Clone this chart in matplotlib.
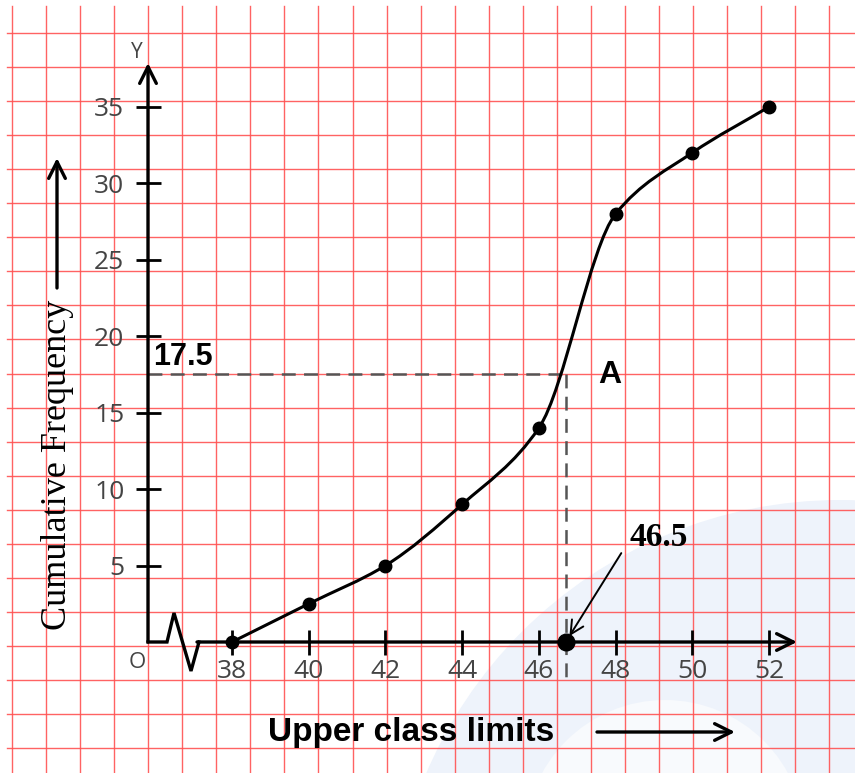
"""Ogive (less-than cumulative frequency curve) drawn on red graph paper."""

import matplotlib

matplotlib.use("Agg")
import matplotlib.pyplot as plt  # noqa: E402
import numpy as np  # noqa: E402
from matplotlib.patches import Circle, PathPatch  # noqa: E402
from matplotlib.path import Path  # noqa: E402

upper_limits = [38, 40, 42, 44, 46, 48, 50, 52]
cum_freq = [0, 2.5, 5, 9, 14, 28, 32, 35]
x_ticks = [38, 40, 42, 44, 46, 48, 50, 52]
y_ticks = [5, 10, 15, 20, 25, 30, 35]
median_y = 17.5
median_x = 46.7  # where the drop line sits on the drawing
median_label = "46.5"

# page layout in pixels (graph paper 855x773)
W, H = 855, 773
X_REF, X_REF_PX, X_PX = 38, 232, 38.36  # x=38 sits at 232 px, 38.36 px per unit
Y0_PX, Y_PX = 642, 15.29  # y=0 sits at 642 px, 15.29 px per unit
GRID_PX = 34.05

plt.rcParams["font.family"] = ["Open Sans", "DejaVu Sans"]
plt.rcParams["lines.scale_dashes"] = False


def to_data(px, py):
    return X_REF + (px - X_REF_PX) / X_PX, (Y0_PX - py) / Y_PX


def smooth_path(xs, ys):
    # monotone cubic hermite (fritsch-carlson slopes) through the points, as beziers
    x = np.asarray(xs, float)
    y = np.asarray(ys, float)
    h = np.diff(x)
    d = np.diff(y) / h
    m = np.empty_like(y)
    m[0], m[-1] = d[0], d[-1]
    for i in range(1, len(y) - 1):
        if d[i - 1] * d[i] <= 0:
            m[i] = 0.0
        else:
            m[i] = 2 * d[i - 1] * d[i] / (d[i - 1] + d[i])
    verts = [(x[0], y[0])]
    codes = [Path.MOVETO]
    for i in range(len(x) - 1):
        verts += [(x[i] + h[i] / 3, y[i] + m[i] * h[i] / 3),
                  (x[i + 1] - h[i] / 3, y[i + 1] - m[i + 1] * h[i] / 3),
                  (x[i + 1], y[i + 1])]
        codes += [Path.CURVE4] * 3
    return Path(verts, codes)


fig = plt.figure(figsize=(W / 100, H / 100), dpi=100)

# graph paper background
bg = fig.add_axes([0, 0, 1, 1])
bg.set_xlim(0, W)
bg.set_ylim(H, 0)
bg.axis("off")
bg.add_patch(Circle((840, 950), 450, color="#eef3fb", lw=0))
bg.add_patch(Circle((665, 840), 140, color="#f8fafd", lw=0))
for k in range(25):
    gx = 12 + k * GRID_PX
    bg.plot([gx, gx], [6, H], color="#ff5252", lw=1.0, alpha=0.9)
for k in range(22):
    gy = 33 + k * GRID_PX
    bg.plot([7, W], [gy, gy], color="#ff5252", lw=1.0, alpha=0.9)

ax = fig.add_axes([0, 0, 1, 1])
ax.patch.set_alpha(0)
left, top = to_data(0, 0)
right, bottom = to_data(W, H)
ax.set_xlim(left, right)
ax.set_ylim(bottom, top)

x_origin, _ = to_data(148, Y0_PX)

# hand drawn axes with a break on x
brk = [to_data(p, q) for p, q in [(148, 642), (167, 642), (174, 613), (191, 671), (199, 642)]]
ax.plot([b[0] for b in brk], [b[1] for b in brk], color="black", lw=2.4, solid_joinstyle="miter")
arrow = dict(arrowstyle="->,head_length=0.6,head_width=0.3", lw=2.4, color="black",
             shrinkA=0, shrinkB=0, mutation_scale=20)
ax.annotate("", xy=to_data(797, 642), xytext=to_data(197, 642), arrowprops=arrow)
ax.annotate("", xy=to_data(148, 63), xytext=(x_origin, 0), arrowprops=arrow)

for side in ax.spines.values():
    side.set_visible(False)
ax.spines["left"].set_position(("data", x_origin))
ax.spines["bottom"].set_position(("data", 0))
ax.set_xticks(x_ticks)
ax.set_yticks(y_ticks)
ax.tick_params(direction="inout", length=18, width=2, color="black",
               labelcolor="#444444", labelsize=19)
ax.tick_params(axis="x", pad=3)
ax.tick_params(axis="y", pad=8)

# ogive
ax.add_patch(PathPatch(smooth_path(upper_limits, cum_freq), fill=False, lw=2.2,
                       ec="black", zorder=4))
ax.plot(upper_limits, cum_freq, "o", color="black", ms=9, zorder=5)

# median construction
dash = dict(color="#555555", lw=1.8, dashes=(10, 6))
ax.plot([x_origin, median_x], [median_y, median_y], **dash)
ax.plot([median_x, median_x], [median_y, to_data(0, 677)[1]], **dash)
ax.plot(median_x, 0, "o", color="black", ms=12, zorder=6)
ax.annotate("", xy=(median_x, 0), xytext=(40, 64), textcoords="offset points",
            arrowprops=dict(arrowstyle="->,head_length=0.6,head_width=0.3", lw=1.4,
                            color="black", shrinkA=0, shrinkB=5, mutation_scale=16))
ax.text(*to_data(659, 537), median_label, ha="center", va="center", fontsize=24,
        fontweight="bold", family=["Liberation Serif", "DejaVu Serif"])
ax.text(*to_data(153, 357), f"{median_y}", ha="left", va="center", fontsize=22,
        fontweight="bold", family=["Liberation Sans", "DejaVu Sans"])
ax.text(*to_data(610, 375), "A", ha="center", va="center", fontsize=23,
        fontweight="bold", family=["Liberation Sans", "DejaVu Sans"])

# axis names
ax.text(*to_data(137, 53), "Y", ha="center", va="center", fontsize=15, color="#444444")
ax.text(*to_data(137, 663), "O", ha="center", va="center", fontsize=16, color="#444444")
ax.text(*to_data(58, 465), "Cumulative Frequency", rotation=90, ha="center", va="center",
        fontsize=26, family=["Liberation Serif", "DejaVu Serif"])
ax.annotate("", xy=to_data(57, 158), xytext=to_data(57, 288), arrowprops=arrow)
ax.text(*to_data(411, 733), "Upper class limits", ha="center", va="center", fontsize=24,
        fontweight="bold", family=["Liberation Sans", "DejaVu Sans"])
ax.annotate("", xy=to_data(735, 732), xytext=to_data(597, 732), arrowprops=arrow)

fig.savefig("out.png", dpi=100)
